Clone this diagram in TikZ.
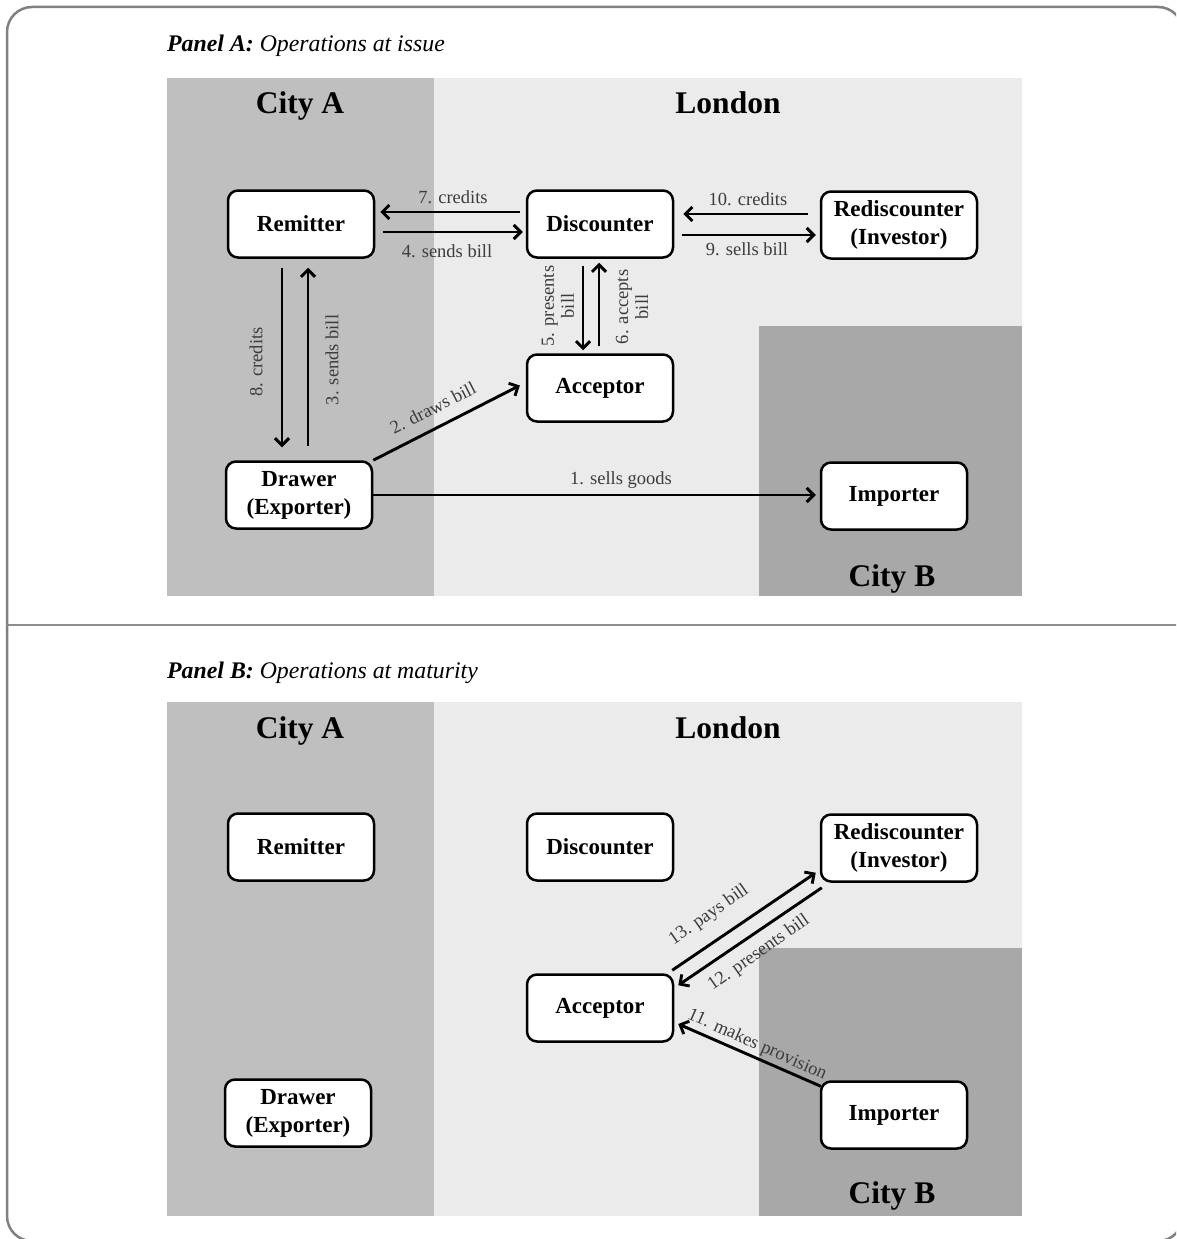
\documentclass[tikz,border=0pt]{standalone}
\usepackage{fontspec}
\setmainfont{Liberation Serif}
\usetikzlibrary{arrows.meta,calc}

\definecolor{cityAgray}{HTML}{BFBFBF}
\definecolor{londongray}{HTML}{EBEBEB}
\definecolor{cityBgray}{HTML}{A8A8A8}
\definecolor{framegray}{HTML}{808080}
\definecolor{labelgray}{HTML}{3C3C3C}

\tikzset{
  actor/.style={draw=black, line width=2.5pt, rounded corners=10pt, fill=white,
    minimum width=146pt, minimum height=67pt, align=center, inner sep=2pt,
    font=\fontsize{23}{28}\selectfont\bfseries},
  flow/.style={line width=2.9pt, -{Straight Barb[length=7pt,width=14pt]}},
  flowlabel/.style={font=\fontsize{18.5}{21}\selectfont, text=labelgray,
    inner sep=0pt, align=center},
  place/.style={font=\fontsize{31.5}{36}\selectfont\bfseries, inner sep=0pt, anchor=base},
  paneltitle/.style={font=\fontsize{23.8}{28}\selectfont, anchor=base west, inner sep=0pt},
}

\begin{document}
\begin{tikzpicture}[x=1pt,y=-1pt]
\useasboundingbox (0,0) rectangle (1176,1239);
\clip (0,0) rectangle (1176,1239);

% outer frame and the rule between the two panels
\draw[framegray, line width=2.5pt, rounded corners=25pt] (7,7) rectangle (1183,1241);
\draw[framegray!90, line width=2.5pt] (7,625) -- (1183,625);

% ---------------- Panel A: operations at issue ----------------
\node[paneltitle] (titleA) at (167,52) {\textbf{\textit{Panel A:}} \textit{Operations at issue}};

\fill[cityAgray]  (167,78) rectangle (434,596);
\fill[londongray] (434,78) rectangle (1022,596);
\fill[cityBgray]  (759,326) rectangle (1022,596);

\node[place] (cityAtopA) at (300,113) {City A};
\node[place] (londonA)   at (728,113) {London};
\node[place] (cityBA)    at (892,586) {City B};

\node[actor] (remA) at (301,224) {Remitter};
\node[actor] (disA) at (600,224) {Discounter};
\node[actor, minimum width=156pt] (redA) at (899,225) {Rediscounter\\(Investor)};
\node[actor] (accA) at (600,388) {Acceptor};
\node[actor] (drwA) at (299,495) {Drawer\\(Exporter)};
\node[actor] (impA) at (894,496) {Importer};

% horizontal flows
\draw[flow, shorten <=6pt, shorten >=5pt] ([yshift=12pt]disA.west) -- ([yshift=12pt]remA.east);
\draw[flow, shorten <=8pt, shorten >=3pt] ([yshift=-8pt]remA.east) -- ([yshift=-8pt]disA.west);
\draw[flow, shorten <=12pt, shorten >=9pt] ([yshift=11pt]redA.west) -- ([yshift=11pt]redA.west -| disA.east);
\draw[flow, shorten <=8pt, shorten >=4pt] ([yshift=-10pt]redA.west -| disA.east) -- ([yshift=-10pt]redA.west);
\draw[flow, shorten >=4pt] (drwA.east) -- (drwA.east -| impA.west);

% vertical flows
\draw[flow, shorten <=9pt, shorten >=13pt] ([xshift=-19pt]remA.south) -- ([xshift=-19pt]remA.south |- drwA.north);
\draw[flow, shorten <=14pt, shorten >=9pt] ([xshift=7pt]remA.south |- drwA.north) -- ([xshift=7pt]remA.south);
\draw[flow, shorten <=7pt, shorten >=3pt] ([xshift=-17pt]disA.south) -- ([xshift=-17pt]accA.north);
\draw[flow, shorten <=7pt, shorten >=4pt] ([xshift=-1pt]accA.north) -- ([xshift=-1pt]disA.south);

% diagonal flow
\draw[flow, shorten >=1pt] (drwA.north east) -- ([shift={(-5pt,3pt)}]accA.west);

% flow labels
\node[flowlabel, anchor=base] (l7)  at (453,203) {7. credits};
\node[flowlabel, anchor=base] (l4)  at (447,257) {4. sends bill};
\node[flowlabel, anchor=base] (l10) at (748,205) {10. credits};
\node[flowlabel, anchor=base] (l9)  at (747,255) {9. sells bill};
\node[flowlabel, anchor=base] (l1)  at (621,484) {1. sells goods};
\node[flowlabel, rotate=90] (l8) at (256,362) {8. credits};
\node[flowlabel, rotate=90] (l3) at (332,360) {3. sends bill};
\node[flowlabel, rotate=90, font=\fontsize{18.5}{20}\selectfont] (l5) at (558,306) {5. presents\\bill};
\node[flowlabel, rotate=90, font=\fontsize{18.5}{20}\selectfont] (l6) at (632,307) {6. accepts\\bill};
\node[flowlabel, rotate=27] (l2) at (433,408) {2. draws bill};

% ---------------- Panel B: operations at maturity ----------------
\node[paneltitle] (titleB) at (167,678) {\textbf{\textit{Panel B:}} \textit{Operations at maturity}};

\fill[cityAgray]  (167,702) rectangle (434,1216);
\fill[londongray] (434,702) rectangle (1022,1216);
\fill[cityBgray]  (759,948) rectangle (1022,1216);

\node[place] (cityAtopB) at (300,738) {City A};
\node[place] (londonB)   at (728,738) {London};
\node[place] (cityBB)    at (892,1203) {City B};

\node[actor] (remB) at (301,847) {Remitter};
\node[actor] (disB) at (600,847) {Discounter};
\node[actor, minimum width=156pt] (redB) at (899,848) {Rediscounter\\(Investor)};
\node[actor] (accB) at (600,1008) {Acceptor};
\node[actor] (drwB) at (298,1113) {Drawer\\(Exporter)};
\node[actor] (impB) at (894,1115) {Importer};

\draw[flow] ([shift={(-2pt,3pt)}]accB.north east) -- ([shift={(-4pt,10pt)}]redB.south west);
\draw[flow] ([shift={(2pt,-5pt)}]redB.south west) -- ([shift={(4pt,-12pt)}]accB.north east);
\draw[flow] ([shift={(1pt,-6pt)}]impB.north west) -- ([shift={(4pt,-16pt)}]accB.east);

\node[flowlabel, rotate=35]  (l13) at (709,915) {13. pays bill};
\node[flowlabel, rotate=35]  (l12) at (759,953) {12. presents bill};
\node[flowlabel, rotate=-24] (l11) at (757,1045) {11. makes provision};

\end{tikzpicture}
\end{document}
